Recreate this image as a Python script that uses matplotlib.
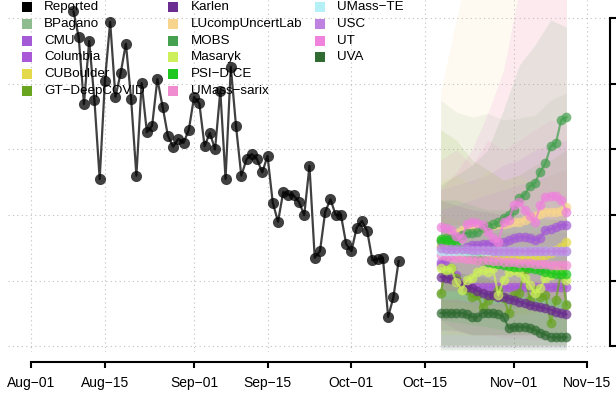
import numpy as np
import matplotlib
matplotlib.use("Agg")
import matplotlib.pyplot as plt
import matplotlib.dates as mdates
from matplotlib.patches import Rectangle
import pandas as pd

plt.rcParams['font.family'] = ['Liberation Sans', 'DejaVu Sans']

# ---------------- data ----------------
reported_start = "2022-08-09"
reported = [510, 471, 369, 465, 375, 255, 404, 494, 380, 416,
            461, 376, 260, 401, 326, 336, 407, 365, 321, 304,
            316, 310, 330, 380, 370, 305, 325, 300, 389, 255,
            426, 335, 260, 285, 293, 285, 265, 290, 219, 190,
            235, 231, 230, 220, 200, 275, 135, 145, 205, 224,
            200, 200, 156, 145, 181, 191, 176, 131, 133, 135,
            45, 75, 130]

forecast_start = "2022-10-18"   # 25 daily forecast points
band_start = "2022-10-18"       # band nodes every 3 days (9 nodes)
band_step = 3

model_names = ["BPagano", "CMU", "Columbia", "CUBoulder", "GT\u2212DeepCOVID",
               "Karlen", "LUcompUncertLab", "MOBS", "Masaryk", "PSI\u2212DICE",
               "UMass\u2212sarix", "UMass\u2212TE", "USC", "UT", "UVA"]
model_colors = ["#8fbc8f", "#a45ad6", "#a958d8", "#e3d94a", "#6aa520",
                "#6b2d8f", "#f8d58c", "#45a050", "#cdf05a", "#1ec81e",
                "#f08cd0", "#b4f0f5", "#be82e0", "#ee82dc", "#2f6b32"]

BPagano = [80, 79, 78, 78, 77, 76, 76, 75, 74, 74, 73, 72, 72, 71, 70, 70, 69, 68, 68, 67, 66, 66, 65, 64, 64]
CMU = [129, 135, 139, 144, 147, 151, 154, 154, 156, 156, 158, 159, 159, 162, 165, 167, 167, 165, 162, 165, 177, 179, 182, 185, 185]
Columbia = [124, 123, 119, 109, 97, 94, 91, 90, 91, 91, 90, 90, 91, 90, 90, 91, 90, 90, 91, 90, 90, 90, 91, 90, 90]
CUBoulder = [153, 150, 147, 144, 141, 138, 136, 135, 135, 133, 133, 132, 132, 133, 135, 135, 136, 136, 138, 138, 139, 142, 147, 151, 159]
GT_DeepCOVID = [81, 116, 119, 104, 94, 86, 75, 78, 60, 71, 78, 86, 74, 51, 78, 81, 116, 71, 86, 75, 78, 36, 71, 116, 63]
Karlen = [106, 105, 103, 99, 94, 91, 89, 85, 81, 79, 78, 76, 75, 73, 71, 68, 66, 63, 62, 60, 58, 56, 53, 51, 49]
LUcompUncertLab = [162, 165, 168, 173, 177, 179, 180, 182, 180, 183, 185, 186, 186, 188, 189, 189, 193, 197, 199, 202, 205, 205, 205, 206, 212]
MOBS = [161, 165, 165, 165, 170, 173, 173, 174, 180, 183, 186, 189, 196, 200, 208, 226, 231, 244, 249, 266, 279, 305, 310, 345, 349]
Masaryk = [119, 116, 119, 98, 86, 101, 104, 113, 116, 113, 119, 78, 101, 113, 116, 113, 104, 94, 81, 89, 104, 109, 116, 113, 101]
PSI_DICE = [164, 162, 158, 153, 147, 142, 138, 135, 132, 129, 127, 126, 124, 123, 121, 121, 121, 119, 118, 116, 113, 112, 110, 110, 110]
UMass_sarix = [139, 138, 136, 135, 135, 133, 133, 132, 132, 132, 130, 130, 129, 129, 129, 127, 127, 127, 126, 126, 126, 124, 124, 124, 124]
UMass_TE = [145] * 25
USC = [150, 149, 149, 148, 148, 148, 147, 147, 147, 147, 146, 146, 146, 146, 146, 146, 145, 145, 145, 145, 145, 145, 145, 145, 145]
UT = [182, 180, 177, 168, 165, 186, 189, 188, 185, 174, 165, 159, 189, 193, 215, 220, 208, 199, 189, 215, 228, 229, 229, 223, 205]
UVA = [51, 51, 51, 51, 51, 49, 45, 45, 51, 51, 51, 49, 45, 28, 30, 30, 30, 28, 25, 21, 18, 14, 14, 14, 14]

# prediction intervals (9 nodes: Oct-18 ... Nov-11 every 3 days)
BPagano_lo = [2] * 9
BPagano_hi = [375, 357, 349, 355, 345, 348, 352, 375, 386]
CMU_lo = [40, 43, 48, 52, 56, 59, 62, 65, 68]
CMU_hi = [238, 246, 253, 261, 276, 284, 299, 307, 314]
Columbia_lo = [40, 25, 18, 18, 18, 18, 18, 18, 18]
Columbia_hi = [177, 177, 174, 174, 174, 174, 174, 174, 174]
CUBoulder_lo = [56, 52, 52, 49, 49, 49, 52, 56, 71]
CUBoulder_hi = [200, 193, 185, 185, 180, 180, 185, 193, 208]
GT_DeepCOVID_lo = [2] * 9
GT_DeepCOVID_hi = [330, 314, 284, 269, 253, 261, 276, 284, 299]
Karlen_lo = [-1] * 9
Karlen_hi = [223, 215, 208, 205, 200, 193, 185, 180, 177]
LUcompUncertLab_lo = [71, 78, 86, 86, 94, 94, 101, 101, 109]
LUcompUncertLab_hi = [387, 497, 600, 600, 600, 600, 600, 600, 600]
MOBS_lo = [25, 25, 18, 18, 18, 18, 18, 18, 18]
MOBS_hi = [246, 261, 276, 299, 360, 428, 459, 497, 486]
Masaryk_lo = [18] * 9
Masaryk_hi = [253, 261, 246, 269, 253, 261, 246, 261, 269]
PSI_DICE_lo = [40, 37, 33, 30, 25, 25, 22, 19, 19]
PSI_DICE_hi = [223, 223, 215, 208, 208, 200, 200, 193, 193]
UMass_sarix_lo = [25, 22, 18, 18, 13, 13, 10, 10, 10]
UMass_sarix_hi = [284, 299, 276, 314, 299, 314, 330, 345, 337]
UMass_TE_lo = [101] * 9
UMass_TE_hi = [185] * 9
USC_lo = [71, 68, 65, 63, 62, 60, 59, 57, 56]
USC_hi = [208, 215, 223, 231, 238, 246, 253, 261, 269]
UT_lo = [94, 94, 86, 86, 78, 78, 71, 71, 71]
UT_hi = [240, 265, 300, 355, 420, 543, 600, 600, 600]
UVA_lo = [-5] * 9
UVA_hi = [116, 113, 109, 104, 94, 86, 78, 74, 71]

point_series = [BPagano, CMU, Columbia, CUBoulder, GT_DeepCOVID, Karlen, LUcompUncertLab,
                MOBS, Masaryk, PSI_DICE, UMass_sarix, UMass_TE, USC, UT, UVA]
band_lo = [BPagano_lo, CMU_lo, Columbia_lo, CUBoulder_lo, GT_DeepCOVID_lo, Karlen_lo,
           LUcompUncertLab_lo, MOBS_lo, Masaryk_lo, PSI_DICE_lo, UMass_sarix_lo, UMass_TE_lo,
           USC_lo, UT_lo, UVA_lo]
band_hi = [BPagano_hi, CMU_hi, Columbia_hi, CUBoulder_hi, GT_DeepCOVID_hi, Karlen_hi,
           LUcompUncertLab_hi, MOBS_hi, Masaryk_hi, PSI_DICE_hi, UMass_sarix_hi, UMass_TE_hi,
           USC_hi, UT_hi, UVA_hi]

x_tick_dates = ["2022-08-01", "2022-08-15", "2022-09-01", "2022-09-15",
                "2022-10-01", "2022-10-15", "2022-11-01", "2022-11-15"]
x_tick_labels = ["Aug\u221201", "Aug\u221215", "Sep\u221201", "Sep\u221215",
                 "Oct\u221201", "Oct\u221215", "Nov\u221201", "Nov\u221215"]
y_ticks = [0, 100, 200, 300, 400, 500]

# ---------------- figure ----------------
W, H = 616, 395
fig = plt.figure(figsize=(W / 100, H / 100), dpi=100)
ax = fig.add_axes([8 / W, 43 / H, 602 / W, 352 / H])

rep_dates = pd.date_range(reported_start, periods=len(reported), freq="D")
fc_dates = pd.date_range(forecast_start, periods=25, freq="D")
bd_dates = pd.date_range(band_start, periods=9, freq=f"{band_step}D")

for c, lo, hi in zip(model_colors, band_lo, band_hi):
    ax.fill_between(bd_dates, lo, hi, color=c, alpha=0.12, linewidth=0, zorder=1)

for c, s in zip(model_colors, point_series):
    ax.plot(fc_dates, s, "-o", color=c, alpha=0.72, lw=1.6, ms=7, mew=0, zorder=3)

ax.plot(rep_dates, reported, "-o", color="black", alpha=0.75, lw=1.6, ms=8, mew=0, zorder=4)

tick_dt = pd.to_datetime(x_tick_dates)
tnum = mdates.date2num(tick_dt)
ax.set_xlim(tnum[0] - 4.48, tnum[-1] + 4.3)
ax.set_ylim(-8.4, 527.4)

ax.set_xticks(tick_dt)
ax.set_xticklabels(x_tick_labels, fontsize=11)
ax.set_yticks(y_ticks)
ax.set_yticklabels([])
ax.yaxis.tick_right()

ax.grid(True, color="#c0c0c0", lw=0.8, linestyle=(0, (1, 3)), zorder=0)
ax.set_axisbelow(True)

for s in ["top", "left"]:
    ax.spines[s].set_visible(False)
ax.spines["bottom"].set_position(("outward", 7.5))
ax.spines["bottom"].set_bounds(tnum[0], tnum[-1])
ax.spines["bottom"].set_linewidth(1.5)
ax.spines["right"].set_bounds(y_ticks[0], y_ticks[-1])
ax.spines["right"].set_linewidth(1.5)
ax.tick_params(axis="x", direction="out", length=4.5, width=1.5, pad=5)
ax.tick_params(axis="y", direction="out", length=5, width=1.5, right=True, left=False)

# ---------------- legend (3 columns, R style) ----------------
leg_names = ["Reported"] + model_names
leg_colors = ["#000000"] + model_colors
col_sq_x = [22, 168, 315]
col_tx_x = [44, 191, 337]
for i, (nm, c) in enumerate(zip(leg_names, leg_colors)):
    col, row = divmod(i, 6)
    yc = 7.3 + row * 16.65
    fig.add_artist(Rectangle((col_sq_x[col] / W, 1 - (yc + 5) / H), 10 / W, 10 / H,
                             transform=fig.transFigure, facecolor=c, edgecolor="none", zorder=10))
    fig.text(col_tx_x[col] / W, 1 - yc / H, nm, fontsize=9.6, ha="left", va="center",
             color="black", zorder=10)

fig.savefig("out.png", dpi=100)
